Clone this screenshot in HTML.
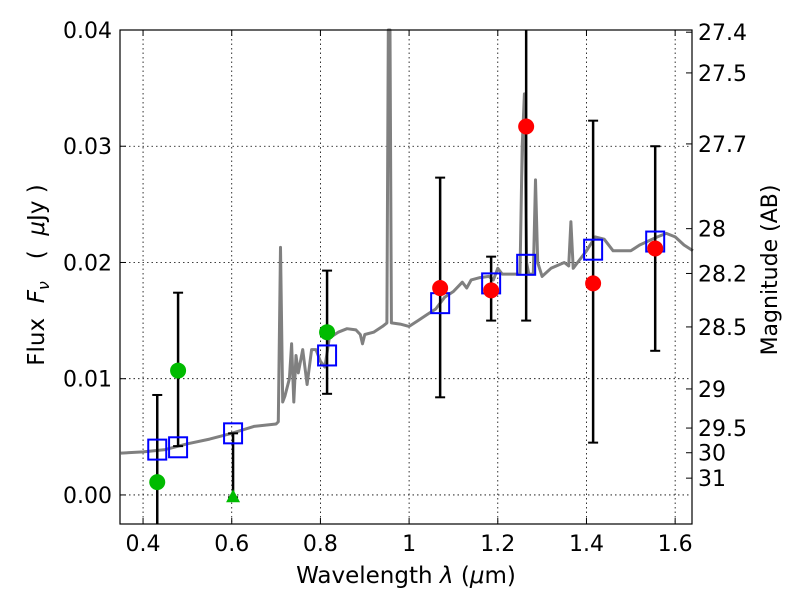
<!DOCTYPE html>
<html><head><meta charset="utf-8"><style>
body{margin:0;background:#fff;}
svg{display:block;font-family:"DejaVu Sans","Liberation Sans",sans-serif;}
</style></head><body>
<svg id="chart" width="800" height="600" viewBox="0 0 800 600">
<rect width="800" height="600" fill="#fff"/>
<g id="grid"></g>
<g id="spec"></g>
<g id="marks"></g>
<rect x="120" y="30" width="572" height="494" fill="none" stroke="#000" stroke-width="1.2"/>
<g id="axes"></g>
<text x="406" y="583" font-size="23" text-anchor="middle">Wavelength  <tspan font-style="italic">λ</tspan> (<tspan font-style="italic">μ</tspan>m)</text>
<text transform="translate(44,275) rotate(-90)" font-size="23" text-anchor="middle" xml:space="preserve">Flux  <tspan font-style="italic">F</tspan><tspan font-style="italic" font-size="16" dy="5">ν</tspan><tspan dy="-5">   (  </tspan><tspan font-style="italic">μ</tspan>Jy )</text>
<text transform="translate(777,270) rotate(-90)" font-size="22" text-anchor="middle">Magnitude (AB)</text>
</svg>
<script>
const NS='http://www.w3.org/2000/svg';
const specWave=[0.35,0.40,0.45,0.50,0.55,0.60,0.65,0.70,0.705,0.71,0.715,0.72,0.73,0.735,0.74,0.745,0.75,0.76,0.77,0.78,0.79,0.80,0.81,0.82,0.84,0.86,0.88,0.89,0.895,0.90,0.92,0.94,0.95,0.953,0.957,0.96,0.98,1.0,1.02,1.04,1.06,1.08,1.10,1.12,1.13,1.14,1.16,1.18,1.19,1.20,1.21,1.24,1.25,1.255,1.26,1.265,1.27,1.28,1.285,1.29,1.30,1.32,1.35,1.36,1.365,1.37,1.38,1.40,1.42,1.44,1.46,1.50,1.52,1.56,1.58,1.60,1.62,1.64];
const specFlux=[0.0036,0.0037,0.0039,0.0044,0.0048,0.0053,0.0059,0.0061,0.0063,0.0213,0.0080,0.0085,0.0100,0.0130,0.0080,0.0120,0.0105,0.0125,0.0095,0.0125,0.0125,0.0115,0.0110,0.0135,0.0140,0.0143,0.0142,0.0138,0.0130,0.0138,0.0140,0.0145,0.0148,0.045,0.045,0.0148,0.0147,0.0145,0.0150,0.0155,0.0160,0.0170,0.0175,0.0183,0.0178,0.0185,0.0187,0.0188,0.0185,0.0195,0.0190,0.0190,0.0190,0.0300,0.0345,0.0200,0.0190,0.0190,0.0271,0.0200,0.0188,0.0195,0.0200,0.0197,0.0235,0.0195,0.0200,0.0210,0.0222,0.0220,0.0210,0.0210,0.0215,0.0222,0.0225,0.0222,0.0215,0.0210];
const greenWave=[0.432,0.479,0.815];
const greenFlux=[0.0011,0.0107,0.0140];
const greenHi=[0.0086,0.0174,0.0193];
const greenLo=[-0.01,0.0042,0.0087];
const limWave=[0.603];
const limFlux=[-0.0002];
const limHi=[0.0053];
const redWave=[1.07,1.185,1.264,1.415,1.555];
const redFlux=[0.0178,0.0176,0.0317,0.0182,0.0212];
const redHi=[0.0273,0.0205,0.05,0.0322,0.0300];
const redLo=[0.0084,0.0150,0.0150,0.0045,0.0124];
const modelWave=[0.432,0.479,0.603,0.815,1.07,1.185,1.264,1.415,1.555];
const modelFlux=[0.0039,0.0041,0.0053,0.0120,0.0165,0.0182,0.0198,0.0211,0.0218];
const xTicks=[0.4,0.6,0.8,1.0,1.2,1.4,1.6];
const xTickLabels=['0.4','0.6','0.8','1','1.2','1.4','1.6'];
const yTicks=[0,0.01,0.02,0.03,0.04];
const yTickLabels=['0.00','0.01','0.02','0.03','0.04'];
const magTicks=[27.4,27.5,27.7,28,28.2,28.5,29,29.5,30,31];

const X0=120,X1=692,Y0=30,Y1=524, WMIN=0.348,WMAX=1.638,FMIN=-0.0025,FMAX=0.04;
const xs=w=>X0+(w-WMIN)/(WMAX-WMIN)*(X1-X0);
const ys=f=>Y1-(f-FMIN)/(FMAX-FMIN)*(Y1-Y0);
const magToFlux=m=>Math.pow(10,(23.9-m)/2.5);
const cl=v=>Math.max(Y0,Math.min(Y1,v));
function mk(tag,attrs,parent){const e=document.createElementNS(NS,tag);for(const k in attrs)e.setAttribute(k,attrs[k]);parent.appendChild(e);return e;}
const grid=document.getElementById('grid'),axes=document.getElementById('axes'),spec=document.getElementById('spec'),marks=document.getElementById('marks');

xTicks.forEach((t,i)=>{const x=xs(t);
 const g=mk('line',{x1:x,x2:x,y1:Y0,y2:Y1,stroke:'#000','stroke-width':0.8,'stroke-dasharray':'1.5,3'},grid);
 
 const tk=mk('line',{x1:x,x2:x,y1:Y1,y2:Y1-6,stroke:'#000'},axes);
 
 mk('line',{x1:x,x2:x,y1:Y0,y2:Y0+6,stroke:'#000'},axes);
 const l=mk('text',{x:x,y:Y1+27,'font-size':22,'text-anchor':'middle'},axes);l.textContent=xTickLabels[i];
 });
yTicks.forEach((t,i)=>{const y=ys(t);
 const g=mk('line',{x1:X0,x2:X1,y1:y,y2:y,stroke:'#000','stroke-width':0.8,'stroke-dasharray':'1.5,3'},grid);
 
 const tk=mk('line',{x1:X0,x2:X0+6,y1:y,y2:y,stroke:'#000'},axes);
 
 const l=mk('text',{x:X0-8,y:y+8,'font-size':22,'text-anchor':'end'},axes);l.textContent=yTickLabels[i];
 });
magTicks.forEach(m=>{const y=ys(magToFlux(m));
 const tk=mk('line',{x1:X1,x2:X1-6,y1:y,y2:y,stroke:'#000'},axes);
 
 const l=mk('text',{x:X1+6,y:y+8,'font-size':22},axes);l.textContent=String(m);
 });

const pts=specWave.map((w,i)=>xs(w).toFixed(1)+','+cl(ys(specFlux[i])).toFixed(1)).join(' ');
const pl=mk('polyline',{points:pts,fill:'none',stroke:'#808080','stroke-width':3,'stroke-linejoin':'round'},spec);


function errbar(w,lo,hi){const x=xs(w),ya=cl(ys(hi)),yb=cl(ys(lo));
 const e=mk('line',{x1:x,x2:x,y1:ya,y2:yb,stroke:'#000','stroke-width':2.5},marks);
 
 if(ys(hi)>Y0)mk('line',{x1:x-5,x2:x+5,y1:ya,y2:ya,stroke:'#000','stroke-width':2},marks);
 if(ys(lo)<Y1)mk('line',{x1:x-5,x2:x+5,y1:yb,y2:yb,stroke:'#000','stroke-width':2},marks);}
greenWave.forEach((w,i)=>errbar(w,greenLo[i],greenHi[i]));
limWave.forEach((w,i)=>errbar(w,limFlux[i],limHi[i]));
redWave.forEach((w,i)=>errbar(w,redLo[i],redHi[i]));
modelWave.forEach((w,i)=>{const r=mk('rect',{x:xs(w)-9,y:ys(modelFlux[i])-10,width:18,height:20,fill:'none',stroke:'#0000ff','stroke-width':2},marks);
 });
greenWave.forEach((w,i)=>{const c=mk('circle',{cx:xs(w),cy:ys(greenFlux[i]),r:8,fill:'#00bb00'},marks);
 });
limWave.forEach((w,i)=>{const x=xs(w),y=ys(limFlux[i]);
 const p=mk('polygon',{points:`${x},${y-8} ${x-7},${y+5} ${x+7},${y+5}`,fill:'#00bb00'},marks);
 });
redWave.forEach((w,i)=>{const c=mk('circle',{cx:xs(w),cy:ys(redFlux[i]),r:8,fill:'#ff0000'},marks);
 });
</script>
</body></html>
